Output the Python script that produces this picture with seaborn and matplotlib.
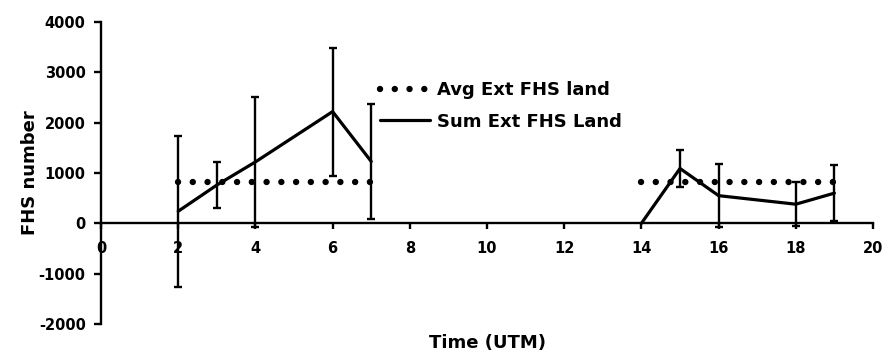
#!/usr/bin/env python3

import matplotlib
matplotlib.use("Agg")
import matplotlib.pylab as plt
import pandas as pd
import seaborn as sns

# Hours (UTM) with data, split into a morning and an afternoon segment
hours = [2, 3, 4, 6, 7, 14, 15, 16, 18, 19]
segment = [1, 1, 1, 1, 1, 2, 2, 2, 2, 2]
sum_fhs = [240, 760, 1220, 2220, 1230, 0, 1090, 550, 380, 600]
sum_err = [1500, 460, 1290, 1270, 1150, 0, 370, 620, 440, 560]
avg_fhs = [830, 830, 830, 830, 830, 830, 830, 830, 830, 830]

sns.set_style("ticks")
plt.rcParams["font.family"] = ["DejaVu Sans"]
plt.rcParams["font.weight"] = "bold"
plt.rcParams["axes.unicode_minus"] = False
plt.rcParams["text.color"] = "black"
plt.rcParams["axes.labelcolor"] = "black"
plt.rcParams["xtick.color"] = "black"
plt.rcParams["ytick.color"] = "black"
plt.rcParams["axes.edgecolor"] = "black"


def main():
    df = pd.DataFrame(
        {
            "hour": hours,
            "segment": segment,
            "sum": sum_fhs,
            "err": sum_err,
            "avg": avg_fhs,
        }
    )

    fig = plt.figure(figsize=(8.82, 3.54), dpi=100)
    ax = fig.add_axes([101 / 882, 1 - 324 / 354, 772 / 882, 302 / 354])

    # Dotted average line
    sns.lineplot(
        df,
        x="hour",
        y="avg",
        units="segment",
        estimator=None,
        color="black",
        ax=ax,
        linewidth=4.6,
        linestyle=(0, (0.01, 2.3)),
        dash_capstyle="round",
        label="Avg Ext FHS land",
        legend=False,
    )
    # Solid sum line
    sns.lineplot(
        df,
        x="hour",
        y="sum",
        units="segment",
        estimator=None,
        color="black",
        ax=ax,
        linewidth=2.3,
        label="Sum Ext FHS Land",
        legend=False,
    )
    # Error bars where there is spread
    eb = df[df.err > 0]
    ax.errorbar(
        eb.hour,
        eb["sum"],
        yerr=eb.err,
        fmt="none",
        ecolor="black",
        elinewidth=1.7,
        capsize=3,
        capthick=1.7,
    )

    ax.set_xlim(0, 20)
    ax.set_ylim(-2000, 4000)
    ax.set_xticks(range(0, 21, 2))
    ax.set_yticks(range(-2000, 4001, 1000))

    for side in ["top", "right"]:
        ax.spines[side].set_visible(False)
    ax.spines["bottom"].set_position(("data", 0))
    ax.spines["left"].set_linewidth(1.7)
    ax.spines["bottom"].set_linewidth(1.7)
    ax.tick_params(axis="y", direction="out", length=5, width=1.7, pad=6, labelsize=10.5)
    ax.tick_params(axis="x", direction="out", length=4, width=1.7, pad=9, labelsize=10.5)
    for lab in ax.get_xticklabels() + ax.get_yticklabels():
        lab.set_fontweight("bold")

    ax.set_ylabel("FHS number", fontsize=13, fontweight="bold", va="center")
    ax.yaxis.set_label_coords(-0.092, 0.5)
    ax.set_xlabel("Time (UTM)", fontsize=13, fontweight="bold", va="center")
    ax.xaxis.set_label_coords(0.5, -0.063)

    handles, labels = ax.get_legend_handles_labels()
    seen = {}
    for h, l in zip(handles, labels):
        if l not in seen:
            seen[l] = h
    ax.legend(
        list(seen.values()),
        list(seen.keys()),
        loc="center left",
        bbox_to_anchor=(0.361, 0.722),
        frameon=False,
        borderpad=0,
        borderaxespad=0,
        handlelength=2.8,
        handletextpad=0.4,
        labelspacing=0.75,
        prop={"size": 13, "weight": "bold"},
    )

    plt.savefig("out.png", dpi=100)


if __name__ == "__main__":
    main()
